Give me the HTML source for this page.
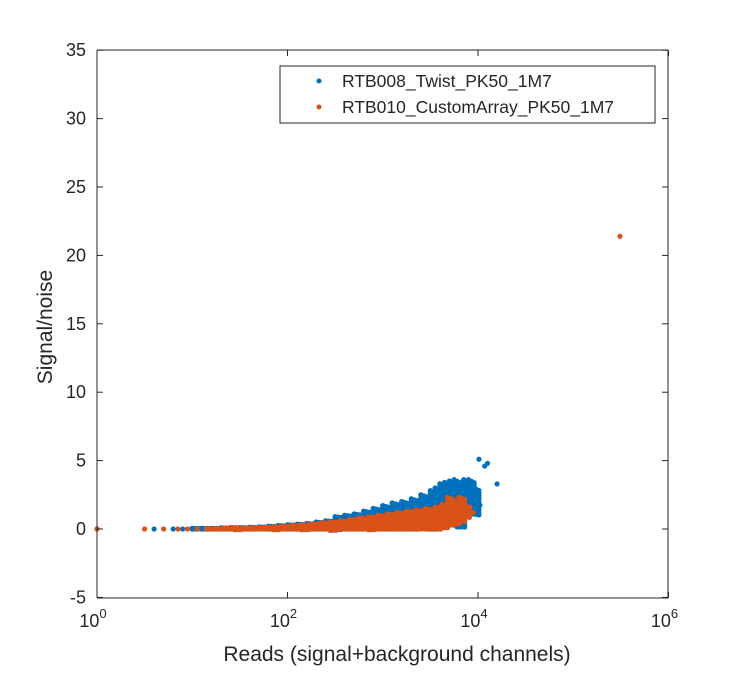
<!DOCTYPE html>
<html><head><meta charset="utf-8"><style>
body{margin:0;background:#fff;font-family:"Liberation Sans",Arial,sans-serif}
svg text{font-family:"Liberation Sans",Arial,sans-serif;fill:#262626}
</style></head><body>
<svg id="chart" width="740" height="671" xmlns="http://www.w3.org/2000/svg">
<rect width="740" height="671" fill="#fff"/>
<g id="marks"></g>
<g id="axes"></g>
<g>
<rect x="280" y="66" width="375" height="57" fill="#fff" stroke="#262626" stroke-width="1"/>
<circle cx="319" cy="81" r="2.5" fill="#0072BD"/>
<text x="342" y="87" font-size="17.5">RTB008_Twist_PK50_1M7</text>
<circle cx="319" cy="107" r="2.5" fill="#D95319"/>
<text x="342" y="113" font-size="17.5">RTB010_CustomArray_PK50_1M7</text>
</g>
<text x="397" y="661" font-size="21" text-anchor="middle">Reads (signal+background channels)</text>
<text transform="translate(52,327) rotate(-90)" font-size="21" text-anchor="middle">Signal/noise</text>
</svg>
<script>
const xTicks=[0,2,4,6];
const yTicks=[-5,0,5,10,15,20,25,30,35];
// blue series: rows of [log10(reads), [signal/noise values]]
const blueRows=[[0,[0]],[0.6,[0]],[0.8,[0]],[0.9,[0]],[1,[0,0.05]],[1.1,[0,0.05]],[1.2,[0,0.05]],[1.3,[0,0.08]],[1.4,[0,0.1]],[1.5,[0,0.1]],[1.6,[0,0.12]],[1.7,[0.02,0.15]],[1.8,[0,0.2]],[1.9,[0,0.25]],[2,[0,0.3]],[2.1,[0,0.35]],[2.2,[0,0.4]],[2.3,[0,0.5]],[2.4,[0,0.6]],[2.5,[-0.05,0.7,0.9]],[2.6,[0,0.8,1.0]],[2.7,[0,0.9,1.1]],[2.8,[0,1.0,1.3]],[2.9,[0,1.1,1.5]],[3.0,[0,1.3,1.7]],[3.1,[0,1.5,1.9]],[3.2,[0,1.6,2.0]],[3.3,[0,1.8,2.2]],[3.4,[0.1,2.0,2.5]],[3.5,[0,2.2,2.6,2.8]],[3.55,[1.8,2.4,3.0]],[3.6,[0.2,2.5,2.9,3.3]],[3.65,[1.5,2.8,3.4]],[3.7,[0.4,2.2,3.0,3.5]],[3.75,[1.2,2.7,3.2,3.6]],[3.8,[0.15,1.0,2.5,3.0,3.4]],[3.85,[1.4,2.3,3.3,3.6]],[3.9,[1.2,2.0,2.6,3.6]],[3.95,[1.1,2.2,3.0]]];
// isolated blue outliers [log10(reads), signal/noise]
const blueOutliers=[[4.01,5.1],[4.02,1.75],[4.07,4.6],[4.1,4.8],[4.2,3.3],[3.95,1.1],[3.78,0.15],[3.85,0.9]];
// orange series
const orangeRows=[[0,[0]],[0.5,[0]],[0.7,[0]],[0.85,[0]],[0.95,[0]],[1.05,[0]],[1.15,[0,0.02]],[1.25,[0,0.03]],[1.35,[0,0.05]],[1.45,[-0.05,0.05]],[1.55,[0,0.08]],[1.65,[0,0.1]],[1.75,[0,0.12]],[1.85,[-0.05,0.15]],[1.95,[0,0.2]],[2.05,[0,0.25]],[2.15,[-0.05,0.3]],[2.25,[0,0.35]],[2.35,[0,0.45]],[2.45,[-0.1,0.5]],[2.55,[0,0.6]],[2.65,[0,0.7]],[2.75,[0,0.8]],[2.85,[-0.05,0.9]],[2.95,[0,1.0]],[3.05,[0,1.1]],[3.15,[0,1.2]],[3.25,[0,1.3]],[3.35,[0,1.4]],[3.45,[0,1.5]],[3.55,[0,1.6]],[3.62,[0.1,1.8]],[3.68,[0.3,1.9,2.3]],[3.74,[0.4,2.0]],[3.8,[0.6,2.3,1.5]],[3.85,[0.9,1.7]]];
const orangeOutliers=[[5.49,21.4],[3.9,1.5],[3.95,1.2]];
const X=v=>97+95.25*v, Y=v=>529-13.68*v;
const ns="http://www.w3.org/2000/svg";
const marks=document.getElementById('marks'), axes=document.getElementById('axes');
function dot(lx,v,c,name){const e=document.createElementNS(ns,'circle');e.setAttribute('cx',X(lx));e.setAttribute('cy',Y(v));e.setAttribute('r',2.6);e.setAttribute('fill',c);


marks.appendChild(e);}
function band(rows,c,name){
 rows.forEach(([lx,vs])=>{vs.forEach(v=>dot(lx,v,c,name));
  const lo=Math.min(...vs),hi=Math.max(...vs);
  if(vs.length>1){const steps=Math.max(1,Math.ceil((Y(lo)-Y(hi))/3));
   for(let i=0;i<=steps;i++){const v=lo+(hi-lo)*i/steps;dot(lx,v,c,name);dot(lx+0.03,v*0.97,c,name);dot(lx+0.06,v*0.94,c,name);}}
 });}
band(blueRows,'#0072BD','point-twist');
blueOutliers.forEach(([lx,v])=>dot(lx,v,'#0072BD','point-twist'));
band(orangeRows,'#D95319','point-customarray');
orangeOutliers.forEach(([lx,v])=>dot(lx,v,'#D95319','point-customarray'));
function line(x1,y1,x2,y2){const l=document.createElementNS(ns,'line');l.setAttribute('x1',x1);l.setAttribute('y1',y1);l.setAttribute('x2',x2);l.setAttribute('y2',y2);l.setAttribute('stroke','#262626');l.setAttribute('stroke-width',1);axes.appendChild(l);return l;}
const xa=line(97,598,668,598);
const ya=line(97,50,97,598);
line(97,50,668,50);line(668,50,668,598);
xTicks.forEach(t=>{line(X(t),598,X(t),592);line(X(t),50,X(t),56);
 const tx=document.createElementNS(ns,'text');tx.setAttribute('x',X(t)-4);tx.setAttribute('y',627);tx.setAttribute('font-size',18);tx.setAttribute('text-anchor','middle');
 
 
 tx.innerHTML='10<tspan dy="-9" font-size="13">'+t+'</tspan>';axes.appendChild(tx);});
yTicks.forEach(t=>{line(97,Y(t),103,Y(t));line(668,Y(t),662,Y(t));
 const tx=document.createElementNS(ns,'text');tx.setAttribute('x',86);tx.setAttribute('y',Y(t)+6);tx.setAttribute('font-size',18);tx.setAttribute('text-anchor','end');
 
 
 tx.textContent=t;axes.appendChild(tx);});
</script>
</body></html>
